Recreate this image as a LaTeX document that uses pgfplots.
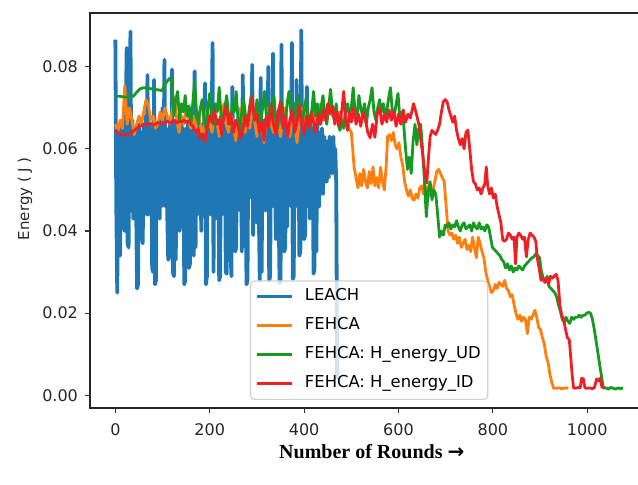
\documentclass[border=0pt]{standalone}
\usepackage{pgfplots}
\pgfplotsset{compat=1.18}
\usepackage{fontspec}
\setmainfont{DejaVu Sans}
\newfontfamily\serifbold{Liberation Serif}
\newfontfamily\arrowfont{DejaVu Sans}
\definecolor{cblue}{HTML}{1F77B4}
\definecolor{corange}{HTML}{FF7F0E}
\definecolor{cgreen}{HTML}{169A22}
\definecolor{cred}{HTML}{EE2026}
\begin{document}
\begin{tikzpicture}
\useasboundingbox (-45pt,-38.5pt) rectangle (274pt,204pt);
\begin{axis}[
  at={(0pt,0pt)}, anchor=south west,
  scale only axis, width=279pt, height=197.5pt,
  xmin=-53.75, xmax=1128.75, ymin=-0.0031, ymax=0.0931,
  xtick={0,200,400,600,800,1000},
  ytick={0,0.02,0.04,0.06,0.08},
  scaled y ticks=false, scaled x ticks=false,
  /pgf/number format/assume math mode=true,
  /pgf/number format/1000 sep={},
  yticklabel style={/pgf/number format/.cd,fixed,fixed zerofill,precision=2},
  xticklabel style={yshift=-1.8pt},
  tick label style={font=\fontsize{8}{9}\selectfont, text=black!85},
  tick align=outside, xtick pos=bottom, ytick pos=left,
  major tick length=2.5pt,
  every tick/.style={black!80, line width=0.6pt},
  axis line style={black!85, line width=0.9pt},
  xlabel={\serifbold\bfseries Number of Rounds {\arrowfont\bfseries →}},
  xlabel style={at={(axis description cs:0.505,-0.111)}, anchor=center, font=\fontsize{10}{12}\selectfont},
  ylabel={Energy ( J )},
  ylabel style={at={(axis description cs:-0.1165,0.53)}, anchor=center, font=\fontsize{7.5}{8}\selectfont, text=black!85},
  every axis plot/.append style={line width=1.4pt, line join=round, mark=none},
  legend cell align=left,
  legend image code/.code={\draw[#1, line width=1.2pt] (0pt,0pt) -- (17.5pt,0pt);},
  legend style={at={(axis description cs:0.2867,0.0203)}, anchor=south west,
    draw=black!18, line width=0.6pt, rounded corners=2pt, fill=white, fill opacity=0.8,
    text opacity=1, draw opacity=1, font=\fontsize{8.2}{9}\selectfont,
    inner xsep=2.5pt, inner ysep=3pt, row sep=4.8pt,
    nodes={inner sep=1pt, text height=6pt, text depth=1.7pt},
    /tikz/every odd column/.append style={column sep=5pt}},
]
\addplot[cblue, line width=1.9pt] coordinates {
(0,0.0866)(2,0.046)(4,0.025)(6,0.064)(8,0.036)(10,0.034)(12,0.066)(14,0.045)(16,0.067)(18,0.041)
(20,0.040)(22,0.066)(24,0.0846)(26,0.037)(28,0.036)(30,0.065)(32,0.0886)(34,0.045)(36,0.067)(38,0.043)
(40,0.050)(42,0.065)(44,0.047)(46,0.026)(48,0.027)(50,0.066)(52,0.043)(54,0.064)(56,0.039)(58,0.037)
(60,0.066)(62,0.047)(64,0.068)(66,0.044)(68,0.078)(70,0.044)(72,0.066)(74,0.048)(76,0.065)(78,0.031)
(80,0.030)(82,0.0768)(84,0.027)(86,0.028)(88,0.065)(90,0.048)(92,0.066)(94,0.043)(96,0.067)(98,0.046)
(100,0.070)(102,0.051)(104,0.0817)(106,0.046)(108,0.065)(110,0.044)(112,0.033)(114,0.034)(116,0.066)(118,0.045)
(120,0.0793)(122,0.030)(124,0.029)(126,0.066)(128,0.033)(130,0.064)(132,0.049)(134,0.068)(136,0.040)(138,0.042)
(140,0.066)(142,0.048)(144,0.065)(146,0.027)(148,0.028)(150,0.065)(152,0.045)(154,0.067)(156,0.031)(158,0.032)
(160,0.066)(162,0.048)(164,0.065)(166,0.034)(168,0.0789)(170,0.036)(172,0.066)(174,0.044)(176,0.067)(178,0.045)
(180,0.065)(182,0.040)(184,0.066)(186,0.050)(188,0.065)(190,0.076)(192,0.027)(194,0.029)(196,0.066)(198,0.046)
(200,0.068)(202,0.044)(204,0.065)(206,0.0858)(208,0.030)(210,0.066)(212,0.043)(214,0.067)(216,0.047)(218,0.066)
(220,0.028)(222,0.029)(224,0.068)(226,0.044)(228,0.066)(230,0.047)(232,0.065)(234,0.030)(236,0.0296)(238,0.067)
(240,0.049)(242,0.066)(244,0.035)(246,0.029)(248,0.0751)(250,0.047)(252,0.065)(254,0.035)(256,0.036)(258,0.067)
(260,0.049)(262,0.066)(264,0.045)(266,0.066)(268,0.035)(270,0.078)(272,0.045)(274,0.066)(276,0.048)(278,0.027)
(280,0.028)(282,0.067)(284,0.048)(286,0.065)(288,0.050)(290,0.0805)(292,0.039)(294,0.066)(296,0.050)(298,0.068)
(300,0.042)(302,0.066)(304,0.045)(306,0.028)(308,0.0773)(310,0.030)(312,0.066)(314,0.045)(316,0.067)(318,0.045)
(320,0.066)(322,0.048)(324,0.080)(326,0.028)(328,0.029)(330,0.065)(332,0.046)(334,0.0832)(336,0.046)(338,0.066)
(340,0.038)(342,0.040)(344,0.067)(346,0.046)(348,0.0273)(350,0.028)(352,0.0854)(354,0.045)(356,0.066)(358,0.035)
(360,0.036)(362,0.067)(364,0.041)(366,0.065)(368,0.048)(370,0.066)(372,0.046)(374,0.0858)(376,0.0283)(378,0.029)
(380,0.066)(382,0.046)(384,0.0768)(386,0.046)(388,0.066)(390,0.034)(392,0.035)(394,0.0889)(396,0.049)(398,0.066)
(400,0.038)(402,0.039)(404,0.067)(406,0.0751)(408,0.046)(410,0.065)(412,0.043)(414,0.066)(416,0.044)(418,0.065)
(420,0.0296)(422,0.031)(424,0.065)(426,0.035)(428,0.066)(430,0.046)(432,0.046)(434,0.064)(436,0.050)(438,0.065)
(440,0.049)(442,0.063)(444,0.052)(446,0.062)(448,0.052)(450,0.061)(452,0.053)(454,0.063)(456,0.055)(458,0.062)
(460,0.054)(462,0.063)(464,0.055)(466,0.060)(468,0.052)(470,0.004)
};
\addlegendentry{LEACH}
\addplot[corange] coordinates {
(0,0.066)(5,0.064)(10,0.067)(15,0.065)(20,0.0755)(25,0.066)(30,0.070)(35,0.067)(40,0.0635)(45,0.066)(50,0.068)(55,0.066)(60,0.069)(65,0.072)(70,0.0705)(75,0.067)(80,0.068)(85,0.065)(90,0.066)(95,0.069)(100,0.067)(105,0.070)(110,0.068)(115,0.066)(120,0.069)(125,0.0725)(130,0.067)(135,0.064)(140,0.068)(145,0.066)(150,0.070)(155,0.067)(160,0.065)(165,0.068)(170,0.064)(175,0.069)(180,0.066)(185,0.063)(190,0.067)(195,0.070)(200,0.066)(205,0.064)(210,0.069)(215,0.067)(220,0.063)(225,0.068)(230,0.071)(235,0.066)(240,0.064)(245,0.069)(250,0.066)(255,0.062)(260,0.067)(265,0.070)(270,0.066)(275,0.064)(280,0.068)(285,0.065)(290,0.070)(295,0.067)(300,0.063)(305,0.068)(310,0.066)(315,0.0615)(320,0.067)(325,0.070)(330,0.066)(335,0.064)(340,0.069)(345,0.067)(350,0.063)(355,0.068)(360,0.070)(365,0.066)(370,0.063)(375,0.068)(380,0.066)(385,0.0615)(390,0.067)(395,0.070)(400,0.066)(405,0.069)(410,0.065)(415,0.068)(420,0.070)(425,0.066)(430,0.068)(435,0.071)(440,0.067)(445,0.069)(450,0.070)(455,0.0714)(460,0.068)(465,0.070)(470,0.067)(475,0.069)(480,0.066)(485,0.068)(490,0.067)(495,0.065)(500,0.064)(503,0.060)(506,0.0555)(510,0.053)(514,0.0505)(518,0.054)(522,0.051)(526,0.055)(530,0.052)(534,0.0505)(538,0.0545)(542,0.0515)(546,0.0556)(550,0.051)(554,0.053)(558,0.0505)(562,0.0555)(566,0.052)(570,0.050)(574,0.056)(577,0.063)(581,0.0635)(585,0.062)(589,0.064)(593,0.061)(597,0.060)(601,0.0615)(605,0.058)(609,0.056)(613,0.052)(617,0.050)(621,0.0485)(625,0.050)(629,0.048)(633,0.0475)(637,0.049)(641,0.048)(645,0.0505)(649,0.051)(653,0.049)(657,0.051)(661,0.050)(665,0.0485)(669,0.049)(673,0.050)(677,0.052)(681,0.0545)(685,0.055)(689,0.054)(693,0.053)(697,0.052)(701,0.046)(705,0.040)(709,0.039)(713,0.0395)(717,0.038)(721,0.039)(725,0.037)(729,0.0385)(733,0.036)(737,0.037)(741,0.038)(745,0.0355)(749,0.0365)(753,0.035)(757,0.0385)(761,0.036)(765,0.0335)(769,0.0385)(773,0.037)(777,0.035)(781,0.0335)(785,0.030)(789,0.028)(793,0.0265)(797,0.025)(801,0.0255)(805,0.027)(809,0.026)(813,0.0275)(817,0.027)(821,0.0265)(825,0.028)(829,0.026)(833,0.0255)(837,0.024)(841,0.0245)(845,0.022)(849,0.020)(853,0.0185)(857,0.0195)(861,0.018)(865,0.019)(869,0.0185)(873,0.015)(877,0.019)(881,0.0185)(885,0.0195)(889,0.0207)(893,0.019)(897,0.0165)(901,0.016)(905,0.014)(909,0.0125)(913,0.0095)(917,0.008)(921,0.005)(925,0.003)(929,0.0017)(935,0.0017)(940,0.0018)(945,0.0016)(950,0.0017)(955,0.0018)(960,0.0017)
};
\addlegendentry{FEHCA}
\addplot[cgreen] coordinates {
(0,0.0728)(10,0.0728)(20,0.0726)(30,0.0728)(38,0.0728)(45,0.0738)(52,0.0746)(60,0.0749)(70,0.0748)(80,0.0745)(90,0.0744)(99,0.0742)(104,0.0755)(110,0.0765)(116,0.0773)(120,0.0760)(124,0.068)(128,0.072)(132,0.074)(136,0.067)(140,0.071)(144,0.069)(148,0.073)(152,0.068)(156,0.0705)(160,0.066)(164,0.071)(168,0.0765)(172,0.069)(176,0.066)(180,0.070)(184,0.072)(188,0.067)(192,0.065)(196,0.070)(200,0.0735)(204,0.068)(208,0.066)(212,0.071)(216,0.069)(220,0.075)(224,0.068)(228,0.066)(232,0.070)(236,0.073)(240,0.068)(244,0.066)(248,0.071)(252,0.069)(256,0.074)(260,0.067)(264,0.065)(268,0.069)(272,0.072)(276,0.068)(280,0.066)(284,0.070)(288,0.073)(292,0.069)(296,0.067)(300,0.072)(304,0.069)(308,0.066)(312,0.070)(316,0.074)(320,0.068)(324,0.066)(328,0.071)(332,0.069)(336,0.073)(340,0.067)(344,0.065)(348,0.070)(352,0.072)(356,0.068)(360,0.066)(364,0.071)(368,0.074)(372,0.069)(376,0.067)(380,0.071)(384,0.068)(388,0.073)(392,0.069)(396,0.066)(400,0.070)(404,0.072)(408,0.068)(412,0.065)(416,0.069)(420,0.074)(424,0.068)(428,0.071)(432,0.066)(436,0.070)(440,0.073)(444,0.068)(448,0.066)(452,0.070)(456,0.0745)(460,0.069)(464,0.067)(468,0.071)(472,0.066)(476,0.0645)(480,0.067)(484,0.065)(488,0.069)(492,0.071)(496,0.068)(500,0.070)(504,0.0749)(508,0.069)(512,0.067)(516,0.073)(520,0.070)(524,0.068)(528,0.071)(532,0.066)(536,0.070)(540,0.072)(544,0.0749)(548,0.069)(552,0.067)(556,0.070)(560,0.072)(564,0.069)(568,0.071)(572,0.067)(576,0.070)(580,0.073)(583,0.0749)(587,0.069)(591,0.068)(595,0.071)(599,0.0735)(603,0.067)(607,0.069)(611,0.066)(615,0.060)(619,0.055)(623,0.058)(627,0.054)(631,0.062)(635,0.066)(639,0.061)(643,0.065)(647,0.066)(651,0.060)(655,0.052)(659,0.0435)(663,0.050)(667,0.052)(671,0.0476)(675,0.050)(679,0.049)(683,0.044)(687,0.0385)(691,0.040)(695,0.039)(699,0.0415)(703,0.041)(707,0.042)(711,0.0405)(715,0.0415)(719,0.041)(723,0.0425)(727,0.041)(731,0.040)(735,0.0415)(739,0.042)(743,0.0405)(747,0.041)(751,0.0415)(755,0.040)(759,0.042)(763,0.041)(767,0.0405)(771,0.042)(775,0.0405)(779,0.041)(783,0.040)(787,0.0415)(791,0.041)(795,0.0385)(799,0.036)(803,0.0355)(807,0.035)(811,0.0345)(815,0.034)(819,0.033)(823,0.0325)(827,0.031)(831,0.032)(835,0.0305)(839,0.0315)(843,0.030)(847,0.031)(851,0.0305)(855,0.0315)(859,0.031)(863,0.0305)(867,0.0315)(871,0.032)(875,0.0325)(879,0.033)(883,0.0335)(887,0.0337)(891,0.0345)(895,0.034)(899,0.0335)(903,0.030)(907,0.0285)(911,0.0275)(915,0.029)(919,0.0265)(923,0.026)(927,0.0255)(931,0.025)(935,0.024)(939,0.022)(943,0.0205)(947,0.0185)(951,0.0178)(955,0.019)(959,0.018)(963,0.0175)(967,0.019)(971,0.0185)(975,0.019)(979,0.019)(983,0.0195)(987,0.019)(991,0.0195)(995,0.0195)(999,0.020)(1003,0.0202)(1007,0.020)(1011,0.0185)(1015,0.016)(1019,0.013)(1023,0.010)(1027,0.007)(1031,0.004)(1034,0.0018)(1040,0.0018)(1045,0.0015)(1050,0.0019)(1055,0.0017)(1060,0.0015)(1065,0.0018)(1070,0.0016)(1076,0.0018)
};
\addlegendentry{FEHCA: H\_energy\_UD}
\addplot[cred] coordinates {
(0,0.0646)(5,0.0640)(10,0.0636)(15,0.0634)(20,0.0634)(25,0.0636)(30,0.0635)(35,0.0640)(40,0.0645)(45,0.0650)(50,0.0654)(55,0.0656)(60,0.066)(65,0.0658)(70,0.066)(75,0.0662)(80,0.0658)(85,0.066)(90,0.0665)(95,0.0662)(100,0.066)(105,0.0665)(110,0.0668)(115,0.0662)(120,0.0666)(125,0.067)(130,0.0663)(135,0.0668)(140,0.0665)(145,0.067)(150,0.0664)(155,0.0668)(160,0.0660)(165,0.0655)(170,0.064)(175,0.0648)(180,0.0625)(185,0.0637)(190,0.0617)(195,0.0655)(200,0.068)(205,0.0665)(210,0.0695)(215,0.066)(220,0.0672)(225,0.0635)(230,0.068)(235,0.0705)(240,0.066)(245,0.0685)(250,0.064)(255,0.067)(260,0.0655)(265,0.0625)(270,0.0645)(275,0.068)(280,0.0655)(285,0.0695)(290,0.0727)(295,0.067)(300,0.0685)(305,0.064)(310,0.0665)(315,0.062)(320,0.068)(325,0.0655)(330,0.0705)(335,0.066)(340,0.0635)(345,0.069)(350,0.0715)(355,0.065)(360,0.068)(365,0.063)(370,0.067)(375,0.0695)(380,0.064)(385,0.0665)(390,0.0705)(395,0.066)(400,0.0635)(405,0.068)(410,0.065)(415,0.069)(420,0.0665)(425,0.064)(430,0.0685)(435,0.066)(440,0.0695)(445,0.067)(450,0.071)(455,0.0685)(460,0.0705)(465,0.066)(470,0.069)(475,0.0655)(480,0.0695)(484,0.074)(488,0.067)(492,0.0645)(496,0.069)(500,0.0665)(505,0.070)(510,0.066)(515,0.0685)(520,0.0655)(525,0.069)(530,0.067)(535,0.064)(540,0.0627)(545,0.066)(550,0.0628)(555,0.0685)(560,0.070)(565,0.066)(570,0.0685)(575,0.0665)(580,0.0695)(585,0.067)(590,0.069)(595,0.0655)(600,0.0685)(605,0.066)(610,0.0695)(615,0.0665)(620,0.0685)(625,0.0675)(632,0.071)(638,0.0685)(644,0.0655)(648,0.0615)(652,0.058)(656,0.054)(660,0.0517)(663,0.057)(667,0.063)(671,0.0645)(675,0.064)(679,0.0635)(683,0.0646)(687,0.066)(691,0.069)(695,0.0715)(699,0.072)(703,0.0715)(707,0.0695)(711,0.068)(715,0.0665)(719,0.068)(723,0.0645)(727,0.0625)(731,0.061)(735,0.0625)(739,0.060)(743,0.064)(747,0.0646)(751,0.060)(755,0.055)(759,0.052)(763,0.0515)(767,0.050)(771,0.0505)(775,0.049)(779,0.0505)(783,0.0515)(786,0.0556)(789,0.051)(793,0.049)(797,0.0505)(801,0.048)(805,0.049)(809,0.046)(813,0.044)(817,0.042)(821,0.0378)(825,0.0375)(829,0.038)(833,0.0395)(837,0.039)(841,0.038)(845,0.0385)(848,0.032)(851,0.0385)(855,0.0395)(859,0.039)(863,0.038)(867,0.0385)(871,0.0337)(875,0.038)(879,0.0395)(883,0.039)(887,0.0385)(891,0.0375)(894,0.0335)(898,0.031)(902,0.028)(906,0.0285)(910,0.0275)(914,0.0285)(918,0.027)(922,0.029)(926,0.0285)(930,0.029)(934,0.0295)(938,0.028)(942,0.022)(946,0.0195)(950,0.0185)(954,0.016)(958,0.014)(962,0.0135)(965,0.0093)(968,0.005)(971,0.0018)(976,0.0017)(981,0.0019)(985,0.0018)(988,0.0041)(992,0.0040)(995,0.0018)(1000,0.0017)(1005,0.0018)(1010,0.0016)(1015,0.0018)(1020,0.004)(1025,0.0035)(1028,0.0042)(1031,0.002)(1036,0.0018)
};
\addlegendentry{FEHCA: H\_energy\_ID}
\end{axis}
\end{tikzpicture}
\end{document}
